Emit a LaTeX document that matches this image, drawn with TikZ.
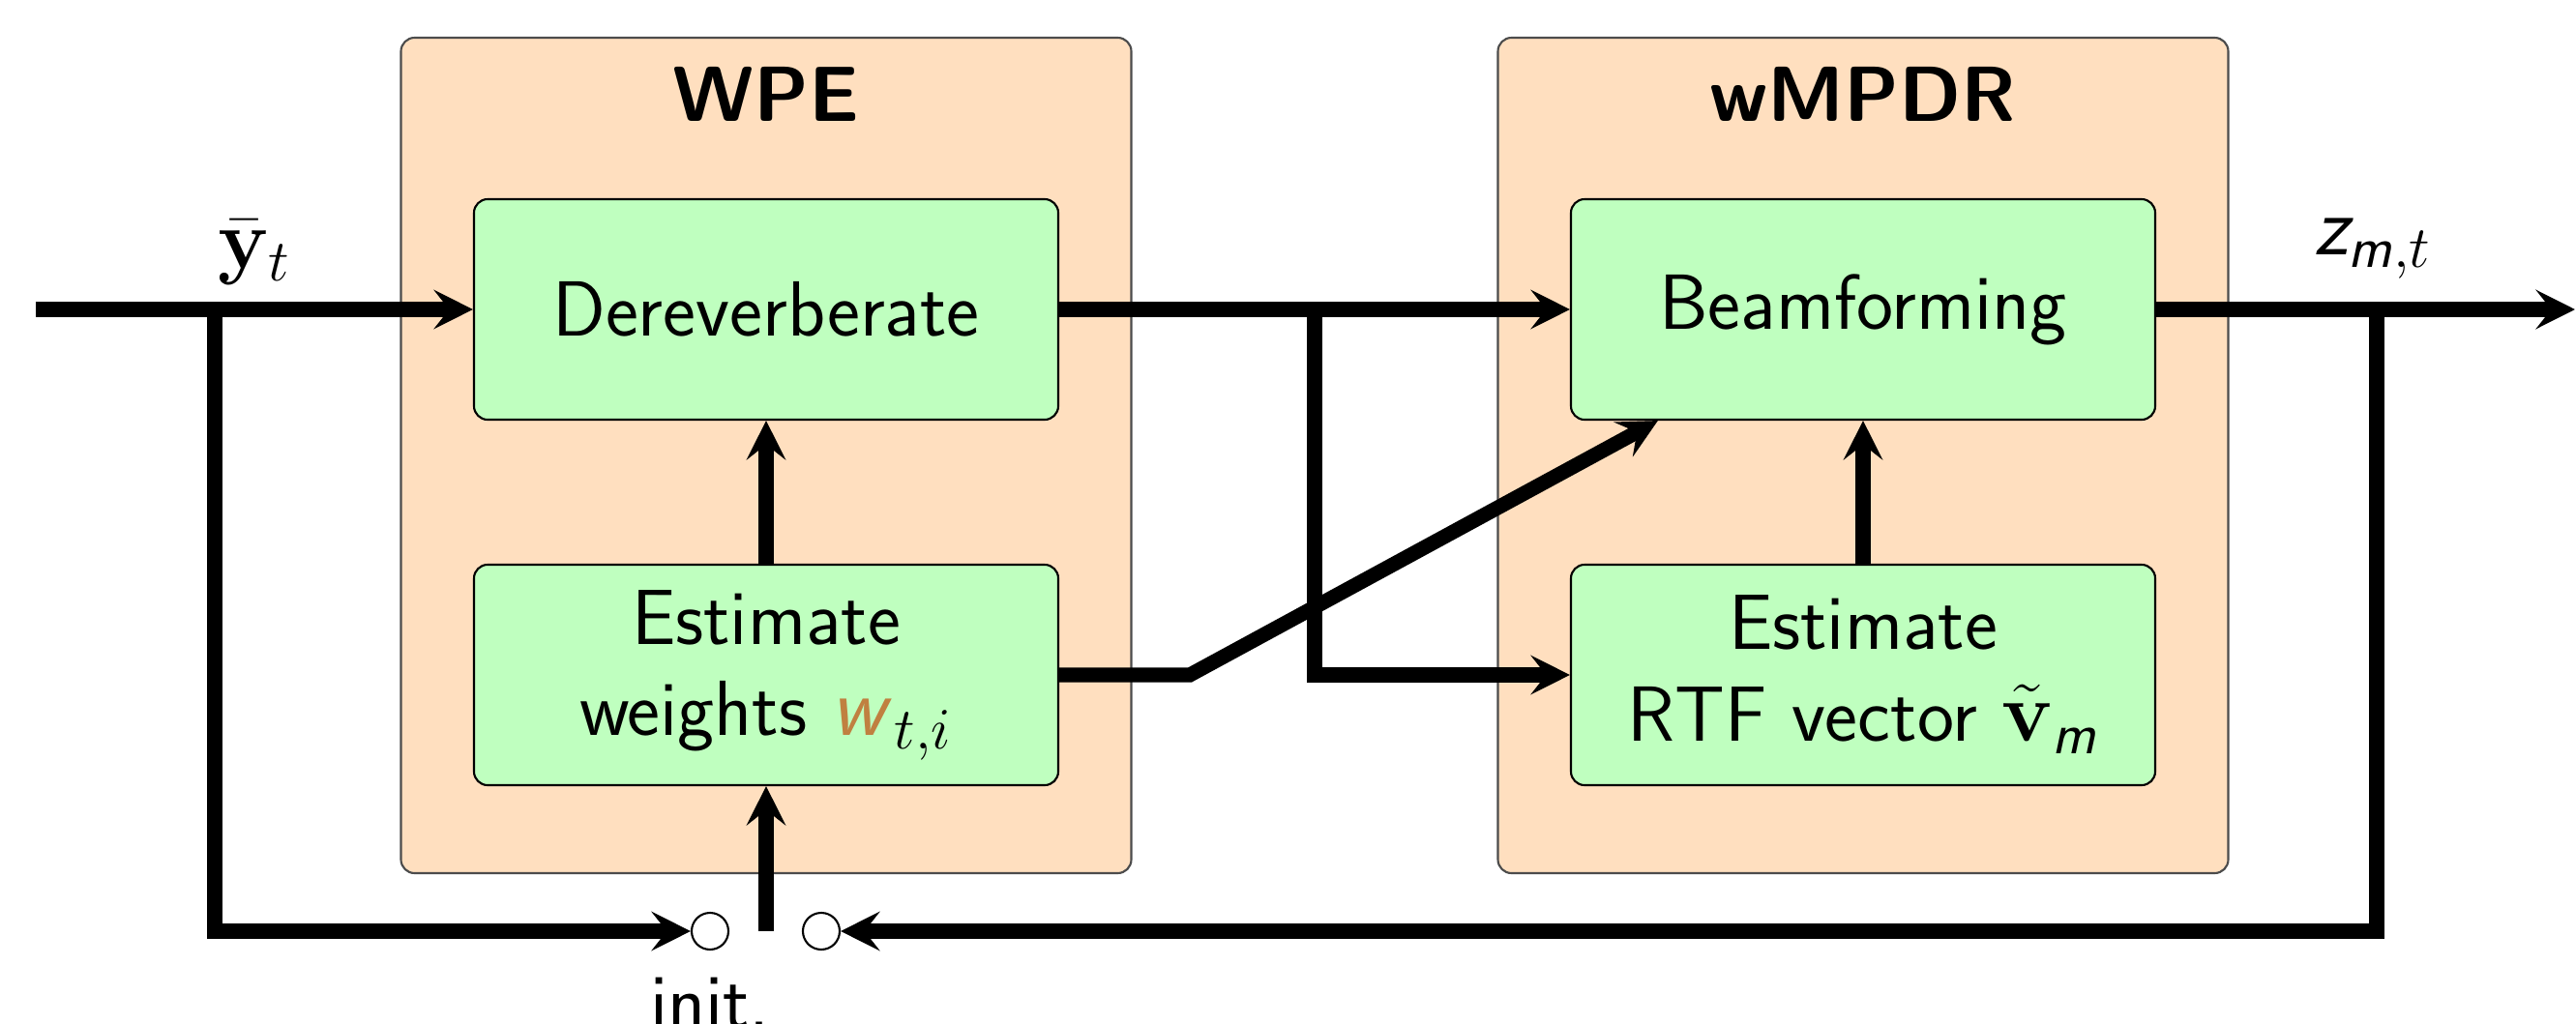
\documentclass[tikz,border=0pt]{standalone}
\usepackage{tikz}
\usetikzlibrary{arrows.meta,positioning,calc}
\DeclareMathAlphabet{\mathsfit}{OT1}{cmss}{m}{sl}
\definecolor{wcolor}{RGB}{192,128,64}
\def\flowwidth{4.3pt}
\def\rowup{7.38}
\def\rowdown{3.60}
\def\rowsw{0.95}

\begin{document}
\begin{tikzpicture}[line width=\flowwidth, >={Stealth[length=11.5pt,width=11.5pt,inset=4.5pt]}, font=\sffamily\fontsize{23}{27}\selectfont]
	\tikzstyle{stage}=[draw=black!70, line width=0.6pt, fill=orange!25, rounded corners=4pt, minimum width=7.55cm, minimum height=8.64cm]
	\tikzstyle{block}=[draw=black, line width=0.6pt, fill=green!25, rounded corners=4pt, minimum width=6.04cm, minimum height=2.28cm, align=center]
	\tikzstyle{stage title}=[font=\sffamily\bfseries\fontsize{23}{27}\selectfont]
	\tikzstyle{switch}=[circle, draw, line width=0.6pt, fill=white, minimum size=0.38cm, inner sep=0pt]

	\useasboundingbox (0,0) rectangle (26.63,10.58);

	% the two stages
	\node[stage] (wpe) at (7.92,5.87) {};
	\node[stage] (wmpdr) at (19.26,5.87) {};
	\node[stage title] (wpe-t) at (7.92,9.61) {WPE};
	\node[stage title] (wmpdr-t) at (19.26,9.61) {wMPDR};

	% blocks inside the stages
	\node[block] (derev) at (7.92,\rowup) {Dereverberate};
	\node[block] (estw) at (7.92,\rowdown) {Estimate\\weights \textcolor{wcolor}{$\mathsfit{w}$}$_{t,i}$};
	\node[block] (beam) at (19.26,\rowup) {Beamforming};
	\node[block] (rtf) at (19.26,\rowdown) {Estimate\\RTF vector $\tilde{\mathbf{v}}_{\mathsfit{m}}$};

	% init. switch
	\node[switch] (swl) at (7.34,\rowsw) {};
	\node[switch] (swr) at (8.49,\rowsw) {};
	\node[anchor=base] (init) at (7.34,-0.05) {init.};

	% branch points
	\coordinate (in) at (0.37,\rowup);
	\coordinate (jin) at (2.22,\rowup);
	\coordinate (jmid) at (13.59,\rowup);
	\coordinate (jout) at (24.57,\rowup);
	\coordinate (out) at (26.62,\rowup);
	\coordinate (bend) at (12.30,\rowdown);
	\coordinate (stub) at (7.92,\rowsw);

	% signal labels
	\node (ylab) at (2.63,7.97) {$\bar{\mathbf{y}}_t$};
	\node (zlab) at (24.53,8.01) {$\mathsfit{z}_{\mathsfit{m},t}$};

	% main path
	\draw[->] (in) -- (derev);
	\draw[->] (derev) -- (beam);
	\draw[->] (beam) -- (out);

	% inside the stages
	\draw[->] (estw) -- (derev);
	\draw[->] (rtf) -- (beam);
	\draw[->] (jmid) |- (rtf);
	\draw[->] (estw) -- (bend) -- ($(beam.south west)!0.15!(beam.south east)$);

	% feedback to the switch
	\draw[->] (jin) |- (swl);
	\draw[->] (jout) |- (swr);
	\draw[->] (stub) -- (estw);
\end{tikzpicture}
\end{document}
